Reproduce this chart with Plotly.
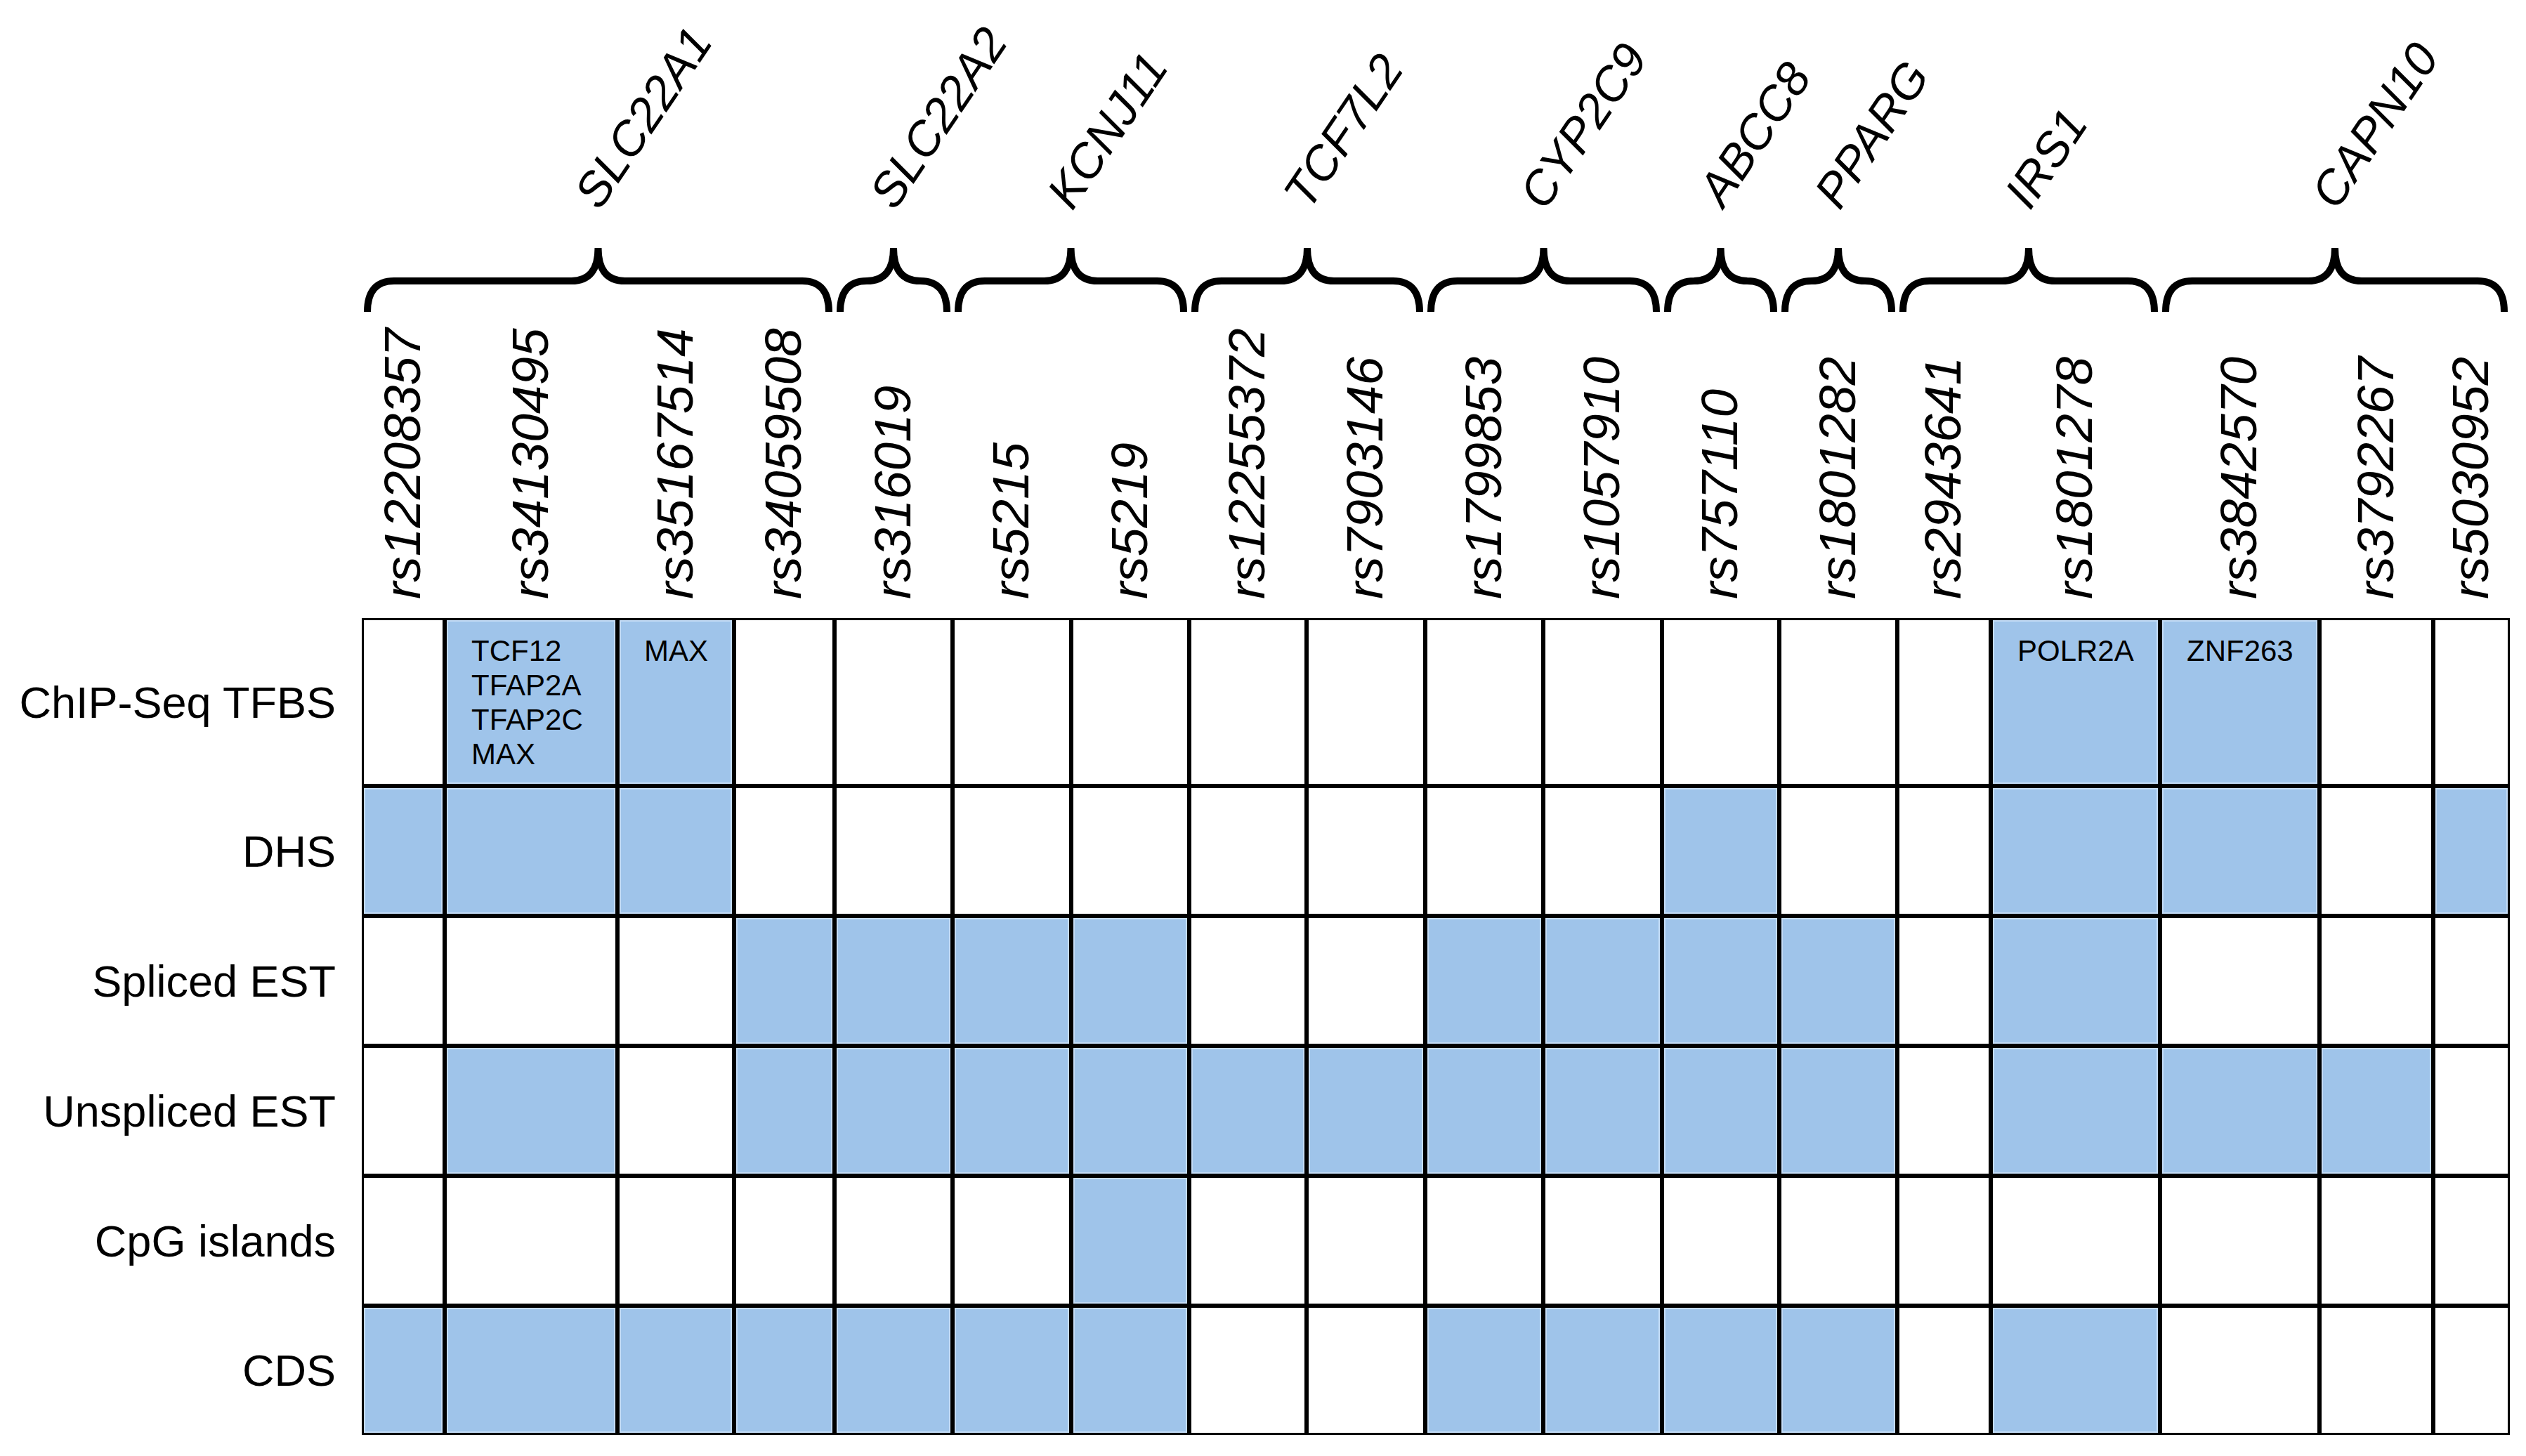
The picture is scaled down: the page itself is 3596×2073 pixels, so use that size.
import plotly.graph_objects as go

# SNPs (columns), grouped by gene
snps = ["rs12208357", "rs34130495", "rs35167514", "rs34059508", "rs316019",
        "rs5215", "rs5219", "rs12255372", "rs7903146", "rs1799853", "rs1057910",
        "rs757110", "rs1801282", "rs2943641", "rs1801278", "rs3842570",
        "rs3792267", "rs5030952"]
genes = ["SLC22A1", "SLC22A2", "KCNJ11", "TCF7L2", "CYP2C9", "ABCC8", "PPARG", "IRS1", "CAPN10"]
gene_snp_count = [4, 1, 2, 2, 2, 1, 1, 2, 3]

features = ["ChIP-Seq TFBS", "DHS", "Spliced EST", "Unspliced EST", "CpG islands", "CDS"]

# 1 = SNP overlaps the annotation
chip_seq = [0, 1, 1, 0, 0, 0, 0, 0, 0, 0, 0, 0, 0, 0, 1, 1, 0, 0]
dhs = [1, 1, 1, 0, 0, 0, 0, 0, 0, 0, 0, 1, 0, 0, 1, 1, 0, 1]
spliced_est = [0, 0, 0, 1, 1, 1, 1, 0, 0, 1, 1, 1, 1, 0, 1, 0, 0, 0]
unspliced_est = [0, 1, 0, 1, 1, 1, 1, 1, 1, 1, 1, 1, 1, 0, 1, 1, 1, 0]
cpg_islands = [0, 0, 0, 0, 0, 0, 1, 0, 0, 0, 0, 0, 0, 0, 0, 0, 0, 0]
cds = [1, 1, 1, 1, 1, 1, 1, 0, 0, 1, 1, 1, 1, 0, 1, 0, 0, 0]
z = [chip_seq, dhs, spliced_est, unspliced_est, cpg_islands, cds]

# transcription factors found in ChIP-Seq cells: (column index, names)
tfbs_cells = [(1, ["TCF12", "TFAP2A", "TFAP2C", "MAX"]), (2, ["MAX"]),
              (14, ["POLR2A"]), (15, ["ZNF263"])]

# layout: cell widths / heights in pixels
col_w = [118, 246, 166, 143, 168, 169, 168, 167, 169, 168, 169, 167, 168, 133, 241, 227, 162, 109]
row_h = [239, 185, 185, 185, 185, 184]

W, H = 3596, 2073
L, R, T, B = 507, 31, 872, 38   # page body adds 8px on left/top
plot_h = H - T - B

x_edges = [0]
for w in col_w:
    x_edges.append(x_edges[-1] + w)
y_edges = [0]
for h in row_h:
    y_edges.append(y_edges[-1] + h)
x_mid = [(a + b) / 2 for a, b in zip(x_edges[:-1], x_edges[1:])]
y_mid = [(a + b) / 2 for a, b in zip(y_edges[:-1], y_edges[1:])]

BLUE = "#9fc4ea"
RIM = "#c4dcf6"
FONT = "Liberation Sans, Arial, sans-serif"


def py(px):
    # pixel row in the reference -> paper y
    return (H - B - (px - 8)) / plot_h


# light rim under the cells, then the cells themselves
fig = go.Figure()
fig.add_trace(go.Heatmap(
    z=z, x=x_edges, y=y_edges,
    colorscale=[[0, "white"], [1, RIM]], zmin=0, zmax=1,
    showscale=False, xgap=6, ygap=6, hoverinfo="skip",
))
fig.add_trace(go.Heatmap(
    z=z, x=x_edges, y=y_edges,
    colorscale=[[0, "white"], [1, BLUE]], zmin=0, zmax=1,
    showscale=False, xgap=10, ygap=10, hoverinfo="skip",
))

# outer border
fig.add_shape(type="rect", xref="x", yref="y", x0=0, x1=x_edges[-1], y0=0, y1=y_edges[-1],
              line=dict(color="black", width=6), layer="above")

# TF names inside ChIP-Seq cells
for ci, names in tfbs_cells:
    for k, name in enumerate(names):
        fig.add_annotation(x=x_edges[ci], y=0, xref="x", yref="y", text=name, showarrow=False,
                           xanchor="left", yanchor="top", xshift=36, yshift=-21 - 49 * k,
                           font=dict(size=42, color="black", family=FONT))

# gene braces + labels
yb, yh, yp = py(444), py(400), py(353)
r1, r2 = 38, 38
start = 0
for g, n in zip(genes, gene_snp_count):
    x0 = x_edges[start] + 8
    x1 = x_edges[start + n] - 8
    xc = (x0 + x1) / 2
    path = (f"M {x0},{yb} Q {x0},{yh} {x0 + r1},{yh} L {xc - r2},{yh} "
            f"Q {xc},{yh} {xc},{yp} Q {xc},{yh} {xc + r2},{yh} "
            f"L {x1 - r1},{yh} Q {x1},{yh} {x1},{yb}")
    fig.add_shape(type="path", path=path, xref="x", yref="paper",
                  line=dict(color="black", width=10))
    fig.add_annotation(x=xc, y=py(312), xref="x", yref="paper", text=f"<i>{g}</i>",
                       showarrow=False, xanchor="left", yanchor="bottom", textangle=-56,
                       xshift=-52, font=dict(size=68, color="black", family=FONT))
    start += n

fig.update_xaxes(
    range=[0, x_edges[-1]], side="top", tickvals=x_mid,
    ticktext=[f"<i>{s}</i>" for s in snps], tickangle=-90, ticks="",
    ticklabelstandoff=26, showgrid=False, zeroline=False, showline=False,
    tickfont=dict(size=73, color="black", family=FONT),
)
fig.update_yaxes(
    range=[y_edges[-1], 0], tickvals=y_mid, ticktext=features, ticks="",
    ticklabelstandoff=36, showgrid=False, zeroline=False, showline=False,
    tickfont=dict(size=63, color="black", family=FONT),
)
fig.update_layout(
    width=W, height=H, margin=dict(l=L, r=R, t=T, b=B),
    plot_bgcolor="black", paper_bgcolor="white",
)

fig.write_html("out.html")
